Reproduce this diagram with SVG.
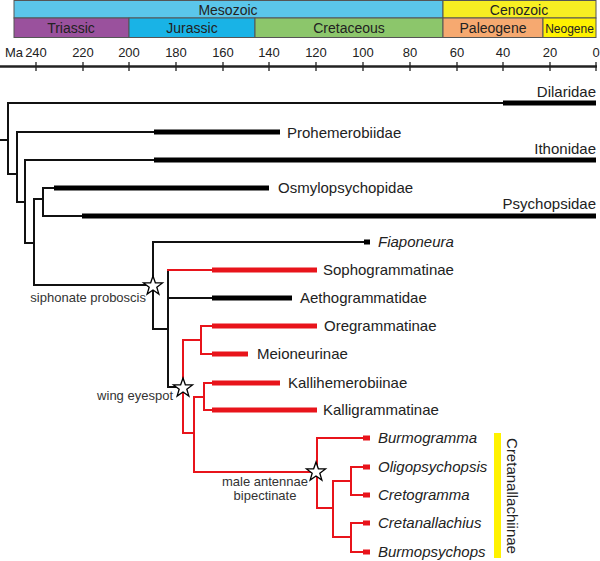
<svg xmlns="http://www.w3.org/2000/svg" width="600" height="561" viewBox="0 0 600 561">
<style>
text{font-family:"Liberation Sans",Arial,sans-serif;fill:#222}
.ts{font-size:14px}
.tk{font-size:13px}
.lb{font-size:15px}
.it{font-size:15px;font-style:italic}
.an{font-size:13px;fill:#333}
.box{stroke:#555;stroke-width:1}
.k{stroke:#111;stroke-width:2;fill:none;stroke-linecap:square}
.r{stroke:#e8141b;stroke-width:2;fill:none;stroke-linecap:square}
.kt{stroke:#000;stroke-width:5;fill:none}
.rt{stroke:#e8141b;stroke-width:5;fill:none}
.star{fill:#fff;stroke:#000;stroke-width:1.3}
</style>
<defs>
<polygon id="star" points="0,-10 2.35,-3.24 9.51,-3.09 3.8,1.24 5.88,8.09 0,4 -5.88,8.09 -3.8,1.24 -9.51,-3.09 -2.35,-3.24"/>
</defs>
<g id="timescale">
<rect class="box" x="14" y="0.5" width="429" height="17.5" fill="#5bc6ea"/>
<rect class="box" x="443" y="0.5" width="153" height="17.5" fill="#f7ee22"/>
<rect class="box" x="14" y="18" width="115" height="19.5" fill="#9a519d"/>
<rect class="box" x="129" y="18" width="126" height="19.5" fill="#19b3e6"/>
<rect class="box" x="255" y="18" width="188" height="19.5" fill="#8cc66b"/>
<rect class="box" x="443" y="18" width="100" height="19.5" fill="#f6a970"/>
<rect class="box" x="543" y="18" width="53" height="19.5" fill="#fff200"/>
<text class="ts" x="228" y="15" text-anchor="middle">Mesozoic</text>
<text class="ts" x="519" y="15" text-anchor="middle">Cenozoic</text>
<text class="ts" x="71" y="33" text-anchor="middle">Triassic</text>
<text class="ts" x="192" y="33" text-anchor="middle">Jurassic</text>
<text class="ts" x="349" y="33" text-anchor="middle">Cretaceous</text>
<text class="ts" x="493" y="33" text-anchor="middle">Paleogene</text>
<text x="569.5" y="33" text-anchor="middle" style="font-size:12px">Neogene</text>
<path d="M0,66.5 H597" stroke="#222" stroke-width="2.5"/>
<path d="M36,62V71 M83,62V71 M129,62V71 M176,62V71 M223,62V71 M269,62V71 M316,62V71 M363,62V71 M410,62V71 M457,62V71 M503,62V71 M550,62V71 M596,62V71" stroke="#222" stroke-width="1.3"/>
<text class="tk" x="5" y="57">Ma</text>
<g class="tk" text-anchor="middle">
<text x="36" y="57">240</text><text x="83" y="57">220</text><text x="129" y="57">200</text><text x="176" y="57">180</text><text x="223" y="57">160</text><text x="269" y="57">140</text><text x="316" y="57">120</text><text x="363" y="57">100</text><text x="410" y="57">80</text><text x="457" y="57">60</text><text x="503" y="57">40</text><text x="550" y="57">20</text><text x="596" y="57">0</text>
</g>
</g>
<g id="connectors">
<path class="k" d="M0,140 H8 M8,103 V174 M8,103 H503 M8,174 H17 M17,132 V202 M17,132 H154 M17,202 H25 M25,160 V243 M25,160 H154 M25,243 H34 M34,199 V285 M34,199 H43 M43,188 V216 M43,188 H54 M43,216 H82 M34,285 H153 M153,242 V329 M153,242 H364 M153,329 H168 M168,270 V387 M168,298 H212 M168,387 H183"/>
<path class="kt" d="M503,103 H596 M154,132 H280 M154,160 H596 M54,188 H269 M82,216 H596 M364,242 H370 M212,298 H292"/>
<path class="r" d="M168,270 H212 M183,340 V433 M183,340 H201 M201,326 V354 M201,326 H212 M201,354 H212 M183,433 H194 M194,397 V472 M194,397 H204 M204,383 V410 M204,383 H212 M204,410 H212 M194,472 H317 M317,438 V508 M317,438 H363 M317,508 H333 M333,481 V537 M333,481 H351 M333,537 H351 M351,467 V495 M351,523 V552 M351,467 H363 M351,495 H363 M351,523 H363 M351,552 H363"/>
<path class="rt" d="M212,270 H317 M212,326 H317 M212,354 H248 M212,383 H280 M212,410 H317 M363,438 H370 M363,467 H370 M363,495 H370 M363,523 H370 M363,552 H370"/>
</g>
<g id="synapomorphies">
<use href="#star" class="star" x="153" y="286"/>
<use href="#star" class="star" x="183" y="388"/>
<use href="#star" class="star" x="316" y="472"/>
<text class="an" x="146" y="302" text-anchor="end">siphonate proboscis</text>
<text class="an" x="173" y="400" text-anchor="end">wing eyespot</text>
<text class="an" x="265" y="486" text-anchor="middle">male antennae</text>
<text class="an" x="265" y="500" text-anchor="middle">bipectinate</text>
</g>
<g id="node-Dilaridae"><text class="lb" x="596" y="97" text-anchor="end">Dilaridae</text></g>
<g id="node-Prohemerobiidae"><text class="lb" x="287" y="138">Prohemerobiidae</text></g>
<g id="node-Ithonidae"><text class="lb" x="596" y="154" text-anchor="end">Ithonidae</text></g>
<g id="node-Osmylopsychopidae"><text class="lb" x="278" y="193">Osmylopsychopidae</text></g>
<g id="node-Psychopsidae"><text class="lb" x="596" y="209" text-anchor="end">Psychopsidae</text></g>
<g id="node-Fiaponeura"><text class="it" x="378" y="247">Fiaponeura</text></g>
<g id="node-Sophogrammatinae"><text class="lb" x="323" y="275">Sophogrammatinae</text></g>
<g id="node-Aethogrammatidae"><text class="lb" x="300" y="303">Aethogrammatidae</text></g>
<g id="node-Oregrammatinae"><text class="lb" x="324" y="331">Oregrammatinae</text></g>
<g id="node-Meioneurinae"><text class="lb" x="257" y="359">Meioneurinae</text></g>
<g id="node-Kallihemerobiinae"><text class="lb" x="288" y="388">Kallihemerobiinae</text></g>
<g id="node-Kalligrammatinae"><text class="lb" x="323" y="415">Kalligrammatinae</text></g>
<g id="node-Burmogramma"><text class="it" x="378" y="443">Burmogramma</text></g>
<g id="node-Oligopsychopsis"><text class="it" x="378" y="472">Oligopsychopsis</text></g>
<g id="node-Cretogramma"><text class="it" x="378" y="500">Cretogramma</text></g>
<g id="node-Cretanallachius"><text class="it" x="378" y="528">Cretanallachius</text></g>
<g id="node-Burmopsychops"><text class="it" x="378" y="557">Burmopsychops</text></g>
<g id="clade-Cretanallachiinae">
<rect x="494" y="433" width="7" height="125" fill="#fff200"/>
<text class="lb" x="507" y="496" text-anchor="middle" transform="rotate(90 507 496)">Cretanallachiinae</text>
</g>
</svg>
